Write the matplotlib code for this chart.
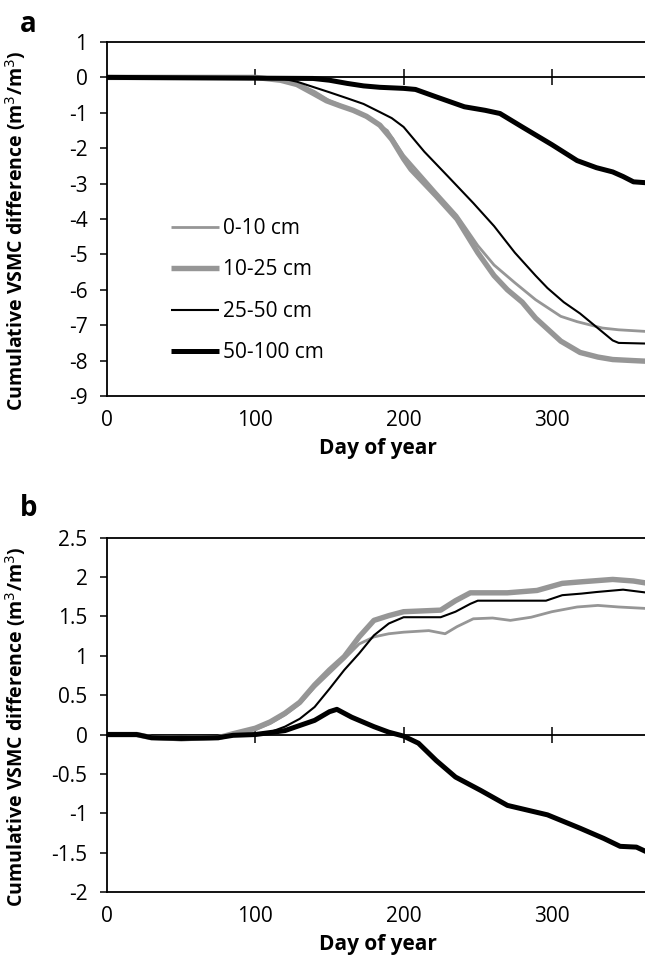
import matplotlib
matplotlib.use("Agg")
import matplotlib.pyplot as plt

plt.rcParams['font.family'] = ['Open Sans', 'DejaVu Sans']

# ---------------- data: panel a (cumulative VSMC difference, m3/m3) ----------------
a_days_0_10 = [0, 100, 110, 120, 130, 140, 150, 160, 170, 180, 189, 200, 222, 236, 250, 261,
               275, 289, 306, 317, 334, 345, 365]
a_vals_0_10 = [0, 0, -0.03, -0.1, -0.2, -0.4, -0.66, -0.83, -1.0, -1.25, -1.5, -2.2, -3.25,
               -3.9, -4.75, -5.3, -5.8, -6.28, -6.75, -6.9, -7.08, -7.13, -7.18]

a_days_10_25 = [0, 100, 117, 128, 139, 148, 157, 166, 175, 184, 192, 200, 205, 222, 236, 250,
                261, 270, 280, 289, 306, 319, 331, 341, 355, 365]
a_vals_10_25 = [0, 0, -0.08, -0.2, -0.45, -0.66, -0.8, -0.93, -1.1, -1.35, -1.75, -2.3, -2.6,
                -3.35, -4.0, -4.95, -5.6, -6.0, -6.35, -6.8, -7.45, -7.77, -7.9, -7.97, -8.0, -8.02]

a_days_25_50 = [0, 110, 117, 128, 139, 150, 162, 173, 184, 192, 200, 214, 230, 247, 261, 275,
                289, 297, 308, 319, 330, 341, 345, 365]
a_vals_25_50 = [0, 0, -0.02, -0.12, -0.27, -0.42, -0.59, -0.75, -0.98, -1.15, -1.4, -2.1,
                -2.8, -3.55, -4.2, -4.95, -5.6, -5.95, -6.35, -6.67, -7.05, -7.43, -7.5, -7.52]

a_days_50_100 = [0, 139, 150, 162, 173, 184, 200, 208, 222, 241, 255, 265, 280, 300, 317, 330,
                 341, 348, 355, 365]
a_vals_50_100 = [0, -0.03, -0.08, -0.17, -0.24, -0.28, -0.31, -0.34, -0.55, -0.83, -0.93,
                 -1.02, -1.4, -1.9, -2.35, -2.55, -2.67, -2.8, -2.95, -2.98]

# ---------------- data: panel b ----------------
b_days_0_10 = [0, 20, 30, 50, 75, 85, 100, 110, 120, 130, 140, 150, 160, 170, 180, 190, 200,
               217, 228, 236, 247, 260, 272, 286, 300, 317, 331, 345, 365]
b_vals_0_10 = [0, 0, -0.05, -0.07, -0.05, 0.0, 0.06, 0.14, 0.25, 0.39, 0.6, 0.78, 0.96, 1.15,
               1.24, 1.28, 1.3, 1.32, 1.28, 1.37, 1.47, 1.48, 1.45, 1.49, 1.56, 1.62, 1.64, 1.62, 1.6]

b_days_10_25 = [0, 20, 30, 50, 75, 85, 100, 110, 120, 130, 140, 150, 160, 170, 180, 190, 200,
                225, 235, 245, 270, 290, 307, 320, 341, 355, 365]
b_vals_10_25 = [0, 0, -0.04, -0.05, -0.04, 0.01, 0.08, 0.16, 0.27, 0.41, 0.63, 0.82, 0.99, 1.24,
                1.45, 1.51, 1.56, 1.58, 1.7, 1.8, 1.8, 1.83, 1.92, 1.94, 1.97, 1.95, 1.92]

b_days_25_50 = [0, 20, 30, 50, 75, 85, 100, 110, 120, 130, 140, 150, 160, 170, 180, 190, 200,
                225, 235, 245, 250, 296, 307, 320, 330, 348, 365]
b_vals_25_50 = [0, 0, -0.04, -0.05, -0.04, 0.0, 0.01, 0.03, 0.1, 0.2, 0.35, 0.58, 0.82, 1.03,
                1.26, 1.41, 1.49, 1.49, 1.56, 1.66, 1.7, 1.7, 1.77, 1.79, 1.81, 1.84, 1.8]

b_days_50_100 = [0, 20, 30, 50, 75, 85, 100, 120, 140, 150, 155, 165, 180, 190, 200, 210, 222,
                 235, 252, 270, 297, 319, 335, 346, 357, 365]
b_vals_50_100 = [0, 0, -0.04, -0.05, -0.04, -0.01, 0.0, 0.05, 0.18, 0.29, 0.32, 0.22, 0.1,
                 0.03, -0.02, -0.11, -0.33, -0.54, -0.71, -0.9, -1.02, -1.19, -1.32, -1.42,
                 -1.43, -1.5]

layer_labels = ['0-10 cm', '10-25 cm', '25-50 cm', '50-100 cm']
layer_colors = ['#969696', '#969696', '#000000', '#000000']
layer_widths = [2.0, 3.9, 1.5, 3.6]

panels = [
    dict(tag='a', ylim=(-9, 1), yticks=list(range(-9, 2)),
         series=[(a_days_0_10, a_vals_0_10), (a_days_10_25, a_vals_10_25),
                 (a_days_25_50, a_vals_25_50), (a_days_50_100, a_vals_50_100)]),
    dict(tag='b', ylim=(-2, 2.5), yticks=[-2, -1.5, -1, -0.5, 0, 0.5, 1, 1.5, 2, 2.5],
         series=[(b_days_0_10, b_vals_0_10), (b_days_10_25, b_vals_10_25),
                 (b_days_25_50, b_vals_25_50), (b_days_50_100, b_vals_50_100)]),
]

W, H = 645, 956
fig = plt.figure(figsize=(W / 100, H / 100), dpi=100)

x_max = 366
px_per_day = 1.483
left_px = 107
axes_px = [(42, 396), (537.7, 892)]  # top, bottom in pixels
tag_y = [24, 508]

fsize = 15
for p, (top, bot), ty in zip(panels, axes_px, tag_y):
    width = x_max * px_per_day
    height = bot - top
    ax = fig.add_axes([left_px / W, 1 - bot / H, width / W, height / H])
    for (d, v), c, lw, lab in zip(p['series'], layer_colors, layer_widths, layer_labels):
        ax.plot(d, v, color=c, lw=lw, label=lab, solid_capstyle='butt', solid_joinstyle='round')
    ax.set_xlim(0, x_max)
    ax.set_ylim(*p['ylim'])
    ax.set_yticks(p['yticks'])
    ax.set_yticklabels([f'{t:g}' for t in p['yticks']])
    ax.set_xticks([0, 100, 200, 300])
    ax.spines['right'].set_visible(False)
    for s in ('left', 'top', 'bottom'):
        ax.spines[s].set_linewidth(1.3)
    ax.tick_params(axis='y', direction='out', length=5, width=1.1, pad=9, labelsize=fsize)
    ax.tick_params(axis='x', length=0, pad=10, labelsize=fsize)

    # zero line carrying the crossing day ticks
    y0 = (0 - p['ylim'][0]) / (p['ylim'][1] - p['ylim'][0])
    sec = ax.secondary_xaxis(y0)
    sec.set_xticks([100, 200, 300])
    sec.tick_params(direction='inout', length=11, width=1.1, labelbottom=False, labeltop=False)
    sec.spines['bottom'].set_linewidth(1.3)
    sec.spines['top'].set_linewidth(1.3)

    ax.set_xlabel('Day of year', fontsize=15, fontweight='bold', labelpad=5)
    ax.set_ylabel('Cumulative VSMC difference (m$^3$/m$^3$)', fontsize=14,
                  fontweight='bold')
    ax.yaxis.set_label_coords(-(107 - 28) / width, 0.5 - 12 / height)
    fig.text(20 / W, 1 - ty / H, p['tag'], fontsize=20, fontweight='bold',
             ha='left', va='center')

    if p['tag'] == 'a':
        ax.legend(loc='upper left',
                  bbox_to_anchor=((171 - left_px) / width, 1 - (218 - top) / height),
                  frameon=False, fontsize=fsize, handlelength=2.3, handletextpad=0.2,
                  labelspacing=0.98, borderpad=0, borderaxespad=0)

fig.savefig('out.png', dpi=100)
